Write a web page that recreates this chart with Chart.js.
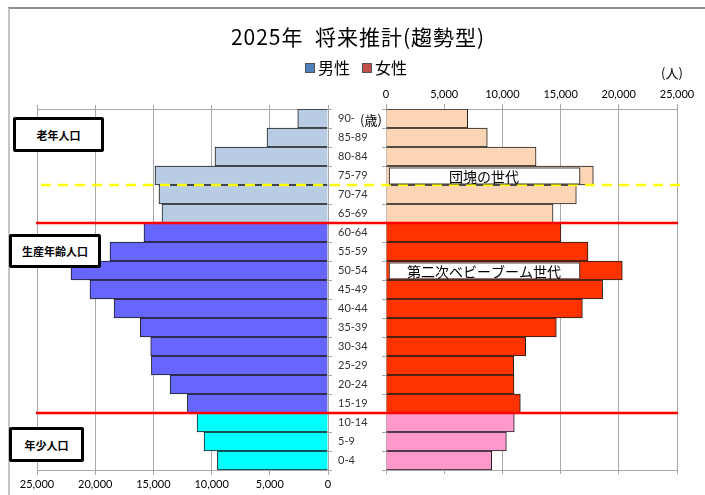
<!DOCTYPE html>
<html lang="ja">
<head>
<meta charset="utf-8">
<title>2025年 将来推計(趨勢型)</title>
<script src="https://cdn.jsdelivr.net/npm/chart.js@4.4.1/dist/chart.umd.min.js"></script>
<style>
  body { margin: 0; background: #fff; font-family: "Noto Sans CJK JP", sans-serif; }
  #wrap { position: relative; width: 705px; height: 495px; overflow: hidden; background: #fff; }
  #frame { position: absolute; left: 8px; top: 7px; width: 720px; height: 520px;
           border-top: 2px solid #8f8f8f; border-left: 2px solid #c4c4c4; }
  canvas { position: absolute; left: 0; top: 0; }
  .title { position: absolute; left: 0; width: 716px; top: 21px; text-align: center;
           font-size: 21px; color: #000; letter-spacing: 1px; }
  .legend { position: absolute; top: 55px; left: 305px; font-size: 16px; color: #000; white-space: nowrap; }
  .legend span.sw { display: inline-block; width: 8px; height: 8px; border: 1px solid #555;
                    margin-right: 3px; vertical-align: 1px; }
  .legend span.gap { display: inline-block; width: 12px; }
  .unit { position: absolute; font-size: 13px; color: #000; }
  .group { position: absolute; box-sizing: border-box; border: 3px solid #000; border-radius: 2px;
           background: #fff; font-size: 11px; font-weight: bold; color: #000;
           display: flex; align-items: center; justify-content: center; }
</style>
</head>
<body>
<div id="wrap">
  <div id="frame"></div>
  <canvas id="maleChart" width="705" height="495"></canvas>
  <canvas id="femaleChart" width="705" height="495"></canvas>
  <div class="title">2025年&nbsp;&nbsp;将来推計(趨勢型)</div>
  <div class="legend"><span class="sw" style="background:#4f81bd"></span>男性<span class="gap"></span><span class="sw" style="background:#c0504d"></span>女性</div>
  <div class="unit" style="left:661px; top:63px;">(人)</div>
  <div class="unit" style="left:360px; top:110px;">(歳)</div>
  <div class="group" style="left:13px; top:117px; width:91px; height:35px;">老年人口</div>
  <div class="group" style="left:9px; top:234px; width:92px; height:34px;">生産年齢人口</div>
  <div class="group" style="left:9px; top:427px; width:75px; height:35px;">年少人口</div>
</div>
<script>
// age classes, oldest at the top
const ageLabels = ['90-', '85-89', '80-84', '75-79', '70-74', '65-69', '60-64', '55-59', '50-54',
  '45-49', '40-44', '35-39', '30-34', '25-29', '20-24', '15-19', '10-14', '5-9', '0-4'];
const male = [2600, 5240, 9710, 14860, 14520, 14260, 15810, 18730, 22080,
  20450, 18380, 16120, 15230, 15170, 13570, 12080, 11250, 10650, 9500];
const female = [7020, 8700, 12890, 17810, 16350, 14350, 15030, 17350, 20300,
  18610, 16870, 14630, 12000, 10970, 11000, 11540, 11020, 10340, 9080];
const tickValues = [0, 5000, 10000, 15000, 20000, 25000];
const axisMax = 25000;

// first row of the working-age and of the young groups
const workStart = ageLabels.indexOf('60-64');
const youngStart = ageLabels.indexOf('10-14');
const dankaiRow = ageLabels.indexOf('75-79');
const notes = [
  { row: '75-79', text: '団塊の世代' },
  { row: '50-54', text: '第二次ベビーブーム世代' }
];

const maleColors = ['#b8cce4', '#6666ff', '#00ffff'];
const femaleColors = ['#fcd5b5', '#ff3300', '#ff99cc'];

function groupColor(colors, i) {
  if (i < workStart) return colors[0];
  if (i < youngStart) return colors[1];
  return colors[2];
}

const gridColor = '#a8a8a8';
const tickFont = { family: 'Lato', size: 11 };
const fmt = v => Number(v).toLocaleString('en-US');
const fixedTicks = scale => { scale.ticks = tickValues.map(v => ({ value: v })); };

// male side: value axis runs right-to-left, labels underneath
new Chart(document.getElementById('maleChart'), {
  type: 'bar',
  data: {
    labels: ageLabels,
    datasets: [{
      label: '男性',
      data: male,
      backgroundColor: ageLabels.map((_, i) => groupColor(maleColors, i)),
      borderColor: '#1c1c1c',
      borderWidth: 1,
      barPercentage: 1,
      categoryPercentage: 1
    }]
  },
  options: {
    indexAxis: 'y',
    responsive: false,
    animation: false,
    layout: { padding: { left: 37, top: 109, right: 0, bottom: 0 } },
    plugins: { legend: { display: false }, tooltip: { enabled: false } },
    scales: {
      x: {
        position: 'bottom', reverse: true, min: 0, max: axisMax,
        afterBuildTicks: fixedTicks,
        ticks: { font: tickFont, color: '#000', padding: 3, maxRotation: 0, callback: fmt },
        grid: { color: gridColor, tickLength: 5 },
        border: { color: gridColor },
        afterFit: s => { s.height = 25; }
      },
      xTop: {
        axis: 'x', position: 'top', reverse: true, min: 0, max: axisMax,
        afterBuildTicks: fixedTicks,
        ticks: { display: false },
        grid: { drawOnChartArea: false, color: gridColor, tickLength: 4 },
        border: { color: gridColor },
        afterFit: s => { s.height = 0; }
      },
      y: {
        position: 'right',
        ticks: { display: false },
        grid: { drawOnChartArea: false, color: gridColor, tickLength: 4 },
        border: { color: gridColor },
        afterFit: s => { s.width = 377; }
      }
    }
  }
});

// divider lines and generation labels, drawn over both sides
const overlay = {
  id: 'overlay',
  afterDraw(chart) {
    const { ctx } = chart;
    const ys = chart.scales.y;
    const xs = chart.scales.x;
    const edge = i => (ys.getPixelForValue(i - 1) + ys.getPixelForValue(i)) / 2;
    const rowH = Math.abs(ys.getPixelForValue(1) - ys.getPixelForValue(0));

    ctx.save();
    ctx.lineWidth = 2.5;
    ctx.strokeStyle = '#ff0000';
    [workStart, youngStart].forEach(i => {
      ctx.beginPath();
      ctx.moveTo(36, edge(i));
      ctx.lineTo(678, edge(i));
      ctx.stroke();
    });

    ctx.strokeStyle = '#ffff00';
    ctx.setLineDash([10, 7]);
    ctx.beginPath();
    ctx.moveTo(41, edge(dankaiRow + 1));
    ctx.lineTo(682, edge(dankaiRow + 1));
    ctx.stroke();
    ctx.setLineDash([]);

    ctx.font = '14px "Noto Sans CJK JP"';
    ctx.textAlign = 'center';
    ctx.textBaseline = 'middle';
    notes.forEach(n => {
      const cy = ys.getPixelForValue(ageLabels.indexOf(n.row));
      const x0 = xs.getPixelForValue(250);
      const x1 = xs.getPixelForValue(16600);
      const h = rowH - 3;
      ctx.fillStyle = '#fff';
      ctx.fillRect(x0, cy - h / 2, x1 - x0, h);
      ctx.lineWidth = 1;
      ctx.strokeStyle = '#444';
      ctx.strokeRect(x0 + 0.5, cy - h / 2 + 0.5, x1 - x0, h);
      ctx.fillStyle = '#000';
      ctx.fillText(n.text, (x0 + x1) / 2, cy + 1);
    });
    ctx.restore();
  }
};

// female side: value axis left-to-right, labels on top, age labels in the middle
new Chart(document.getElementById('femaleChart'), {
  type: 'bar',
  data: {
    labels: ageLabels,
    datasets: [{
      label: '女性',
      data: female,
      backgroundColor: ageLabels.map((_, i) => groupColor(femaleColors, i)),
      borderColor: '#1c1c1c',
      borderWidth: 1,
      barPercentage: 1,
      categoryPercentage: 1
    }]
  },
  options: {
    indexAxis: 'y',
    responsive: false,
    animation: false,
    layout: { padding: { left: 338, top: 89, right: 28, bottom: 0 } },
    plugins: { legend: { display: false }, tooltip: { enabled: false } },
    scales: {
      x: {
        position: 'top', min: 0, max: axisMax,
        afterBuildTicks: fixedTicks,
        ticks: { font: tickFont, color: '#000', padding: 3, maxRotation: 0, callback: fmt },
        grid: { color: gridColor, tickLength: 5 },
        border: { color: gridColor },
        afterFit: s => { s.height = 20; }
      },
      xBottom: {
        axis: 'x', position: 'bottom', min: 0, max: axisMax,
        afterBuildTicks: fixedTicks,
        ticks: { display: false },
        grid: { drawOnChartArea: false, color: gridColor, tickLength: 4 },
        border: { color: gridColor },
        afterFit: s => { s.height = 25; }
      },
      y: {
        position: 'left',
        ticks: { crossAlign: 'far', font: tickFont, color: '#333', padding: 0 },
        grid: { drawOnChartArea: false, color: gridColor, tickLength: 4 },
        border: { color: gridColor },
        afterFit: s => { s.width = 48; }
      }
    }
  },
  plugins: [overlay]
});
</script>
</body>
</html>
